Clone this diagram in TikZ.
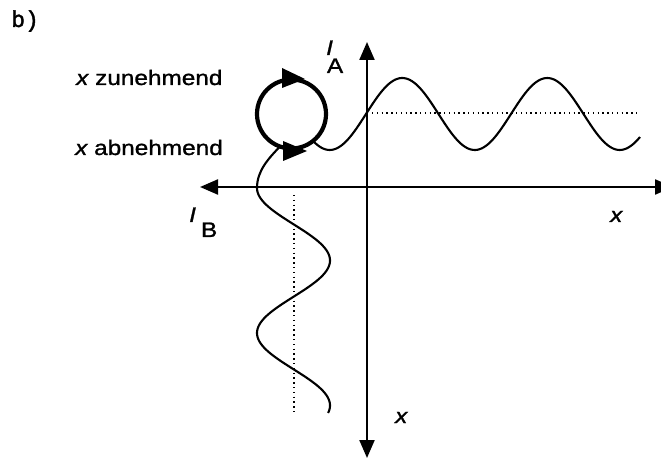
\documentclass[tikz,border=0pt]{standalone}
\usepackage{fontspec}
\setmainfont{Liberation Sans}
\newfontfamily\labfont[FakeStretch=1.16,FakeBold=1.2]{Liberation Sans}
\newfontfamily\monofont[FakeBold=1.8]{Liberation Mono}
\usetikzlibrary{arrows.meta}
\begin{document}
\begin{tikzpicture}[x=1pt,y=1pt,
  axis/.style={line width=2.2pt,{Triangle[length=18pt,width=15pt]}-{Triangle[length=18pt,width=15pt]}},
  curve/.style={line width=2.1pt,line join=round},
  loopline/.style={line width=4.2pt},
  dotline/.style={line width=1.4pt,dash pattern=on 1.4pt off 3.4pt},
  lab/.style={inner sep=0pt,anchor=base west,font=\labfont\fontsize{21}{24}\selectfont},
  mono/.style={inner sep=0pt,anchor=base west,font=\monofont\fontsize{23}{26}\selectfont}]
\useasboundingbox (0,0) rectangle (661,461);
% axes
\coordinate (hl) at (200,274);
\coordinate (hr) at (673,274);
\coordinate (vt) at (367,419);
\coordinate (vb) at (367,3);
\draw[axis] (hl) -- (hr);
\draw[axis] (vb) -- (vt);
% hysteresis loop
\coordinate (c) at (291.5,347);
\draw[loopline] (c) circle[radius=34.5];
\fill (282,393) -- (305,382) -- (282,373) -- cycle;
\fill (283,320) -- (307,310) -- (283,300) -- cycle;
% dotted mean lines
\coordinate (d1) at (372,348);
\coordinate (d2) at (640,348);
\coordinate (d3) at (294,266);
\coordinate (d4) at (294,46);
\draw[dotline] (d1) -- (d2);
\draw[dotline] (d3) -- (d4);
% I_A curve
\draw[curve] plot[domain=313:640,samples=160] (\x,{347+36*sin((\x-366)/145*360)});
% I_B curve
\draw[curve] (280,314.5) .. controls (268,302) and (257,290) .. (257,273)
  -- plot[domain=188:413,samples=160,variable=\t] ({293.5-36.5*cos((\t-188)/145*360)},{461-\t});
% labels
\node[mono] (b) at (11,434) {b)};
\node[lab] (zu) at (76,376) {\itshape x\upshape{} zunehmend};
\node[lab] (ab) at (75,306) {\itshape x\upshape{} abnehmend};
\node[lab] (ia) at (326,406) {\itshape I\upshape\kern-6pt\raisebox{-18pt}{A}};
\node[lab] (ib) at (189,239) {\itshape I\upshape\kern5pt\raisebox{-15pt}{B}};
\node[lab] (xr) at (610,239) {\itshape x};
\node[lab] (xb) at (395,38) {\itshape x};
\end{tikzpicture}
\end{document}
